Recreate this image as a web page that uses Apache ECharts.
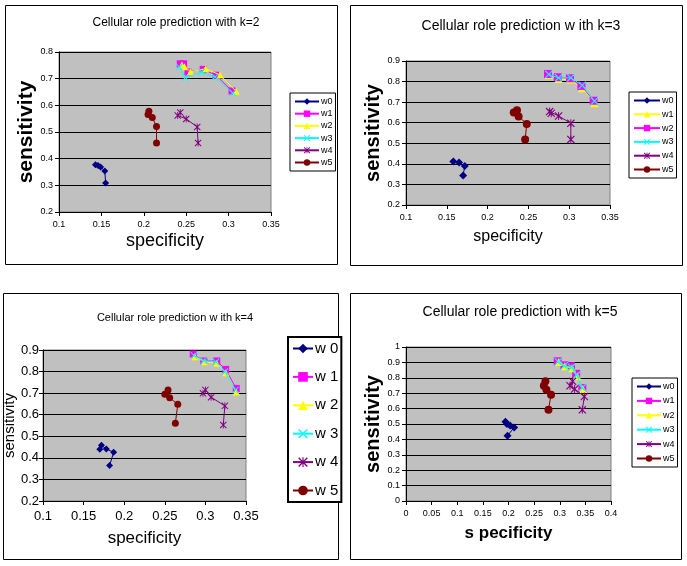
<!DOCTYPE html>
<html><head><meta charset="utf-8">
<script src="https://cdn.jsdelivr.net/npm/echarts@6/dist/echarts.min.js"></script>
<style>html,body{margin:0;padding:0;background:#fff}#c{width:687px;height:566px}</style>
</head><body><div id="c"></div>
<script>
// ---- data ----
const seriesNames = ['w0','w1','w2','w3','w4','w5'];
const titles = ['Cellular role prediction with k=2','Cellular role prediction w ith k=3','Cellular role prediction w ith k=4','Cellular role prediction with k=5'];
const xTicks = [[0.1,0.35,0.05],[0.1,0.35,0.05],[0.1,0.35,0.05],[0,0.4,0.05]];
const yTicks = [[0.2,0.8,0.1],[0.2,0.9,0.1],[0.2,0.9,0.1],[0,1,0.1]];

const k2_w0 = [[0.143,0.377],[0.146,0.374],[0.149,0.369],[0.154,0.354],[0.155,0.309]];
const k2_w1 = [[0.243,0.756],[0.247,0.756],[0.252,0.725],[0.270,0.735],[0.285,0.713],[0.304,0.654]];
const k2_w2 = [[0.245,0.752],[0.248,0.745],[0.255,0.726],[0.273,0.737],[0.290,0.714],[0.309,0.652]];
const k2_w3 = [[0.242,0.744],[0.249,0.704],[0.268,0.725],[0.284,0.706],[0.305,0.646]];
const k2_w4 = [[0.243,0.573],[0.240,0.562],[0.250,0.549],[0.263,0.519],[0.264,0.459]];
const k2_w5 = [[0.206,0.578],[0.205,0.566],[0.210,0.554],[0.215,0.521],[0.215,0.459]];

const k3_w0 = [[0.158,0.411],[0.165,0.406],[0.172,0.390],[0.170,0.343]];
const k3_w1 = [[0.275,0.832],[0.287,0.812],[0.301,0.810],[0.316,0.768],[0.331,0.695]];
const k3_w2 = [[0.274,0.837],[0.286,0.821],[0.301,0.816],[0.315,0.779],[0.330,0.707]];
const k3_w3 = [[0.275,0.835],[0.287,0.818],[0.302,0.818],[0.316,0.782],[0.331,0.705]];
const k3_w4 = [[0.276,0.654],[0.278,0.646],[0.287,0.633],[0.302,0.597],[0.302,0.519]];
const k3_w5 = [[0.232,0.650],[0.236,0.660],[0.238,0.630],[0.248,0.594],[0.246,0.519]];

const k4_w0 = [[0.170,0.440],[0.172,0.458],[0.178,0.441],[0.187,0.426],[0.182,0.364]];
const k4_w1 = [[0.285,0.881],[0.298,0.849],[0.314,0.849],[0.325,0.810],[0.338,0.722]];
const k4_w2 = [[0.287,0.869],[0.299,0.846],[0.314,0.838],[0.325,0.795],[0.338,0.705]];
const k4_w3 = [[0.286,0.875],[0.298,0.850],[0.313,0.845],[0.324,0.800],[0.337,0.715]];
const k4_w4 = [[0.297,0.699],[0.300,0.715],[0.307,0.681],[0.324,0.641],[0.322,0.552]];
const k4_w5 = [[0.250,0.695],[0.254,0.715],[0.256,0.679],[0.266,0.648],[0.263,0.560]];

const k5_w0 = [[0.194,0.515],[0.197,0.500],[0.203,0.490],[0.211,0.478],[0.198,0.423]];
const k5_w1 = [[0.296,0.907],[0.309,0.881],[0.322,0.875],[0.332,0.826],[0.344,0.733]];
const k5_w2 = [[0.298,0.902],[0.310,0.875],[0.324,0.862],[0.334,0.810],[0.345,0.728]];
const k5_w3 = [[0.297,0.905],[0.309,0.878],[0.323,0.868],[0.333,0.818],[0.344,0.735]];
const k5_w4 = [[0.325,0.777],[0.320,0.748],[0.329,0.727],[0.348,0.679],[0.344,0.592]];
const k5_w5 = [[0.272,0.777],[0.269,0.748],[0.274,0.722],[0.283,0.690],[0.278,0.592]];

const panelData = [
  [k2_w0,k2_w1,k2_w2,k2_w3,k2_w4,k2_w5],
  [k3_w0,k3_w1,k3_w2,k3_w3,k3_w4,k3_w5],
  [k4_w0,k4_w1,k4_w2,k4_w3,k4_w4,k4_w5],
  [k5_w0,k5_w1,k5_w2,k5_w3,k5_w4,k5_w5]
];

// ---- styles ----
const COL = {navy:'#000080', mag:'#FF00FF', yel:'#FFFF00', cyan:'#00FFFF', pur:'#800080', red:'#800000'};
const XSYM = 'path://M0,1 L1,0 L5,4 L9,0 L10,1 L6,5 L10,9 L9,10 L5,6 L1,10 L0,9 L4,5 Z';
const STAR = 'path://M0,1 L1,0 L5,4 L9,0 L10,1 L6,5 L10,9 L9,10 L5,6 L1,10 L0,9 L4,5 Z M4.4,0 L5.6,0 L5.6,10 L4.4,10 Z';
const styleStd = [
  {c:COL.navy,s:'diamond'},{c:COL.mag,s:'rect'},{c:COL.yel,s:'triangle'},
  {c:COL.cyan,s:XSYM},{c:COL.pur,s:STAR},{c:COL.red,s:'circle'}];
const styleK3 = [
  {c:COL.navy,s:'diamond'},{c:COL.yel,s:'triangle'},{c:COL.mag,s:'rect'},
  {c:COL.cyan,s:XSYM},{c:COL.pur,s:STAR},{c:COL.red,s:'circle'}];
const panelStyles = [styleStd, styleK3, styleStd, styleStd];

const ARIAL = 'Arial,"Liberation Sans",sans-serif';

const grids = [
  {left:59, top:52, width:212, height:160},
  {left:406, top:61, width:204, height:144},
  {left:43, top:350, width:203, height:151},
  {left:406, top:347, width:205, height:154}
];
const panelCfg = [
  {tickFont:9, tickMargin:6, sym:7, titleX:171, titleY:12, titleSize:12,
   yName:'sensitivity', yFont:21, yBold:'bold', yGap:21,
   xName:'specificity', xFont:18, xBold:'normal', xGap:20, xMargin:8,
   legend:{left:290, top:93, h:78, font:9, iw:24, ih:8, bw:1}},
  {tickFont:9, tickMargin:6, sym:8, titleX:516, titleY:14, titleSize:14,
   yName:'sensitivity', yFont:20, yBold:'bold', yGap:20,
   xName:'specificity', xFont:16, xBold:'normal', xGap:24, xMargin:8,
   legend:{left:629, top:92, h:86, font:9, iw:26, ih:8, bw:1}},
  {tickFont:13, tickMargin:4, sym:7, titleX:170, titleY:307, titleSize:11,
   yName:'sensitivity', yFont:15, yBold:'normal', yGap:22,
   xName:'specificity', xFont:17, xBold:'normal', xGap:29, xMargin:9,
   legend:{left:288, top:337, h:165, font:15, iw:20, ih:12, bw:2}},
  {tickFont:9, tickMargin:6, sym:8, titleX:515, titleY:300, titleSize:14,
   yName:'sensitivity', yFont:20, yBold:'bold', yGap:20,
   xName:'s pecificity', xFont:17, xBold:'bold', xGap:24, xMargin:8,
   legend:{left:632, top:378, h:89, font:9, iw:24, ih:8, bw:1}}
];

const option = {
  animation:false,
  backgroundColor:'#fff',
  graphic: [
    {type:'rect', shape:{x:5.5,y:5.5,width:332,height:259}, style:{fill:'none',stroke:'#000',lineWidth:1}, z:-10},
    {type:'rect', shape:{x:350.5,y:5.5,width:332,height:260}, style:{fill:'none',stroke:'#000',lineWidth:1}, z:-10},
    {type:'rect', shape:{x:3.5,y:293.5,width:335,height:266}, style:{fill:'none',stroke:'#000',lineWidth:1}, z:-10},
    {type:'rect', shape:{x:350.5,y:293.5,width:331,height:266}, style:{fill:'none',stroke:'#000',lineWidth:1}, z:-10}
  ],
  title: [], grid: [], xAxis: [], yAxis: [], legend: [], series: []
};

panelCfg.forEach((p, i) => {
  option.title.push({text:titles[i], left:p.titleX, top:p.titleY, textAlign:'center',
    textStyle:{fontSize:p.titleSize, fontWeight:'normal', fontFamily:ARIAL, color:'#000'}});
  option.grid.push(Object.assign({show:true, backgroundColor:'#C0C0C0', borderColor:'#808080', borderWidth:1}, grids[i]));
  const axCommon = {
    type:'value', gridIndex:i,
    axisLine:{show:true, onZero:false, lineStyle:{color:'#000', width:1}},
    axisTick:{show:true, inside:false, length:4, lineStyle:{color:'#000'}},
    axisLabel:{fontSize:p.tickFont, fontFamily:ARIAL, color:'#000', margin:p.tickMargin, showMinLabel:true, showMaxLabel:true},
    nameLocation:'middle'
  };
  option.xAxis.push(Object.assign({}, axCommon, {
    min:xTicks[i][0], max:xTicks[i][1], interval:xTicks[i][2],
    splitLine:{show:false},
    name:p.xName, nameGap:p.xGap,
    nameTextStyle:{fontSize:p.xFont, fontWeight:p.xBold, fontFamily:ARIAL, color:'#000'},
    axisLabel:Object.assign({}, axCommon.axisLabel, {margin:p.xMargin,
      formatter: v => +v.toFixed(2) + ''})
  }));
  option.yAxis.push(Object.assign({}, axCommon, {
    min:yTicks[i][0], max:yTicks[i][1], interval:yTicks[i][2],
    splitLine:{show:true, lineStyle:{color:'#000', width:1}},
    name:p.yName, nameGap:p.yGap,
    nameTextStyle:{fontSize:p.yFont, fontWeight:p.yBold, fontFamily:ARIAL, color:'#000'},
    axisLabel:Object.assign({}, axCommon.axisLabel, {formatter: v => +v.toFixed(1) + ''})
  }));
  const L = p.legend;
  const names = seriesNames.map(n => 'k' + i + '|' + n);
  const rowH = Math.max(L.ih, L.font);
  const gap = (L.h - 8 - 6 * rowH) / 5;
  option.legend.push({
    orient:'vertical', left:L.left, top:L.top,
    data:names, itemWidth:L.iw, itemHeight:L.ih, itemGap:gap,
    padding:[4,3,4,4], borderColor:'#000', borderWidth:L.bw,
    backgroundColor:'#fff', selectedMode:false,
    formatter: n => { const s = n.split('|')[1]; return i===2 ? s[0] + ' ' + s[1] : s; },
    textStyle:{fontSize:L.font, lineHeight:L.font, fontFamily:ARIAL, color:'#000', padding:[0,0,0,-3]}
  });
  panelData[i].forEach((d, j) => {
    const st = panelStyles[i][j];
    option.series.push({
      name:names[j], type:'line', xAxisIndex:i, yAxisIndex:i, data:d,
      symbol:st.s, symbolSize:p.sym,
      showAllSymbol:true, smooth:false,
      lineStyle:{color:st.c, width:1},
      itemStyle:{color:st.c, borderWidth:0},
      emphasis:{disabled:true}, z:2+j
    });
  });
});

const chart = echarts.init(document.getElementById('c'), null, {renderer:'canvas'});
chart.setOption(option);
</script></body></html>
